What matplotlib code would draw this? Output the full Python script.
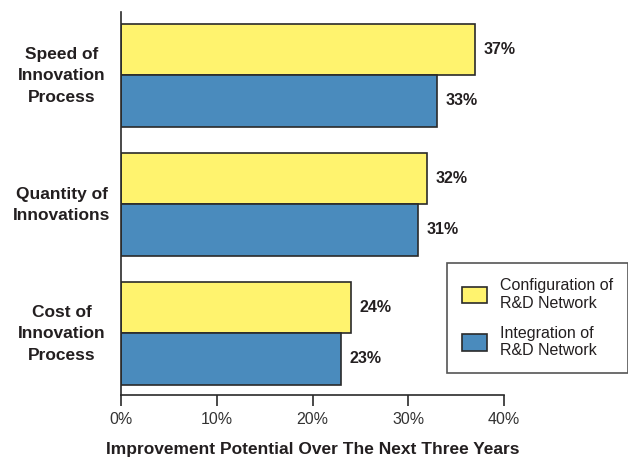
import matplotlib
matplotlib.use("Agg")
import matplotlib.pyplot as plt
import matplotlib.transforms as mtransforms
from matplotlib.patches import Patch

categories = ["Speed of\nInnovation\nProcess", "Quantity of\nInnovations", "Cost of\nInnovation\nProcess"]
config_vals = [37, 32, 24]
integ_vals = [33, 31, 23]
series_names = ["Configuration of\nR&D Network", "Integration of\nR&D Network"]
xticks = [0, 10, 20, 30, 40]
xlabel = "Improvement Potential Over The Next Three Years"

YELLOW = "#FFF36E"
BLUE = "#4A8BBD"
EDGE = "#2a2a2a"
TXT = "#231F20"

plt.rcParams['font.family'] = ['Liberation Sans', 'DejaVu Sans']

fig = plt.figure(figsize=(6.28, 4.58), dpi=100)
ax = fig.add_axes([121/628, 1-395/458, (504-121)/628, (395-12)/458])

h = 0.4
ys = list(range(len(categories)))
ax.barh([y - h/2 for y in ys], config_vals, height=h, color=YELLOW, edgecolor=EDGE, linewidth=1.2)
ax.barh([y + h/2 for y in ys], integ_vals, height=h, color=BLUE, edgecolor=EDGE, linewidth=1.2)

for y, v in zip(ys, config_vals):
    ax.text(v + 0.9, y - h/2, f"{v}%", va="center", ha="left", fontsize=11.5, fontweight="bold", color=TXT)
for y, v in zip(ys, integ_vals):
    ax.text(v + 0.9, y + h/2, f"{v}%", va="center", ha="left", fontsize=11.5, fontweight="bold", color=TXT)

ax.set_xlim(0, 40)
ax.set_ylim(2.48, -0.49)
ax.set_xticks(xticks)
ax.set_xticklabels([f"{t}%" for t in xticks], fontsize=11.5, color="#333333")
ax.set_yticks(ys)
ax.set_yticklabels(categories, fontsize=12.5, fontweight="bold", color=TXT, ha="center", linespacing=1.55)
ax.tick_params(axis="y", length=0, pad=42.5)
ax.tick_params(axis="x", length=8, width=1.2, color=EDGE, pad=4, direction="out")
shift = mtransforms.ScaledTranslation(0, 4/100, fig.dpi_scale_trans)
for lbl in ax.get_yticklabels():
    lbl.set_transform(lbl.get_transform() + shift)
for s in ["top", "right"]:
    ax.spines[s].set_visible(False)
ax.spines["left"].set_linewidth(1.2)
ax.spines["bottom"].set_linewidth(1.2)
ax.spines["left"].set_color(EDGE)
ax.spines["bottom"].set_color(EDGE)

ax.set_xlabel(xlabel, fontsize=12.5, fontweight="bold", color=TXT, labelpad=11)

handles = [Patch(facecolor=YELLOW, edgecolor=EDGE, linewidth=1.2),
           Patch(facecolor=BLUE, edgecolor=EDGE, linewidth=1.2)]
leg = fig.legend(handles, series_names, loc="upper left",
                 bbox_to_anchor=(447/628, 1-263/458), bbox_transform=fig.transFigure,
                 fancybox=False, frameon=True, fontsize=11.5, borderaxespad=0,
                 handlelength=1.55, handleheight=1.25, handletextpad=0.8,
                 labelspacing=0.95, borderpad=0.95)
leg.get_frame().set_edgecolor(EDGE)
leg.get_frame().set_linewidth(1.2)
for t in leg.get_texts():
    t.set_color(TXT)

fig.savefig("out.png", dpi=100)
